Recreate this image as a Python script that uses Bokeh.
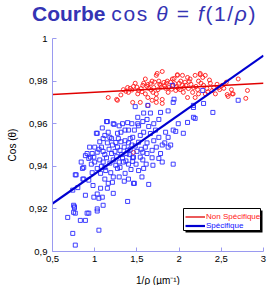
from bokeh.plotting import figure
from bokeh.embed import file_html
from bokeh.resources import INLINE
from bokeh.layouts import column
from bokeh.models import Legend, LegendItem, BoxAnnotation, Range1d, Div

# ---------------- data ----------------
red_x = [1.16, 1.26, 1.27, 1.45, 1.54, 1.63, 1.73, 1.80, 1.42, 1.46, 1.48, 1.52, 1.51, 1.57, 1.60, 1.63,
         1.64, 1.60, 1.63, 1.68, 1.69, 1.73, 1.73, 1.73, 1.78, 1.80, 1.82, 1.84, 1.86, 1.87, 1.92, 1.93,
         1.96, 1.98, 2.02, 1.99, 2.04, 1.68, 1.80, 1.40, 1.34, 1.39, 1.74, 1.98, 2.25, 2.28, 2.04, 2.10,
         2.13, 2.19, 2.25, 2.31, 2.23, 2.08, 2.17, 2.29, 2.37, 2.41, 2.05, 2.16, 2.23, 2.34, 2.43, 2.51,
         2.57, 2.64, 2.70, 2.81, 2.79, 2.10, 2.19, 2.31, 2.53, 2.47, 2.58, 2.63, 1.46,
         1.50, 1.55, 1.58, 1.62, 1.66, 1.70, 1.71, 1.75, 1.77, 1.79, 1.83, 1.85, 1.88, 1.90, 1.91, 1.95,
         1.97, 2.00, 2.01, 2.06, 2.07, 2.11, 2.14, 2.20, 2.22, 2.26, 2.33, 2.36, 2.39, 2.45, 1.37, 1.44,
         1.56, 1.67, 1.76, 1.94, 2.12, 2.48, 1.31, 2.62, 2.56]
red_y = [0.9723, 0.9714, 0.9710, 0.9700, 0.9700, 0.9686, 0.9700, 0.9695, 0.9766, 0.9775, 0.9790, 0.9756,
         0.9740, 0.9780, 0.9810, 0.9784, 0.9766, 0.9740, 0.9723, 0.9800, 0.9747, 0.9740, 0.9719, 0.9827,
         0.9780, 0.9845, 0.9794, 0.9766, 0.9800, 0.9747, 0.9810, 0.9780, 0.9756, 0.9827, 0.9800, 0.9766,
         0.9780, 0.9710, 0.9714, 0.9747, 0.9760, 0.9770, 0.9836, 0.9830, 0.9830, 0.9817, 0.9827, 0.9817,
         0.9810, 0.9827, 0.9836, 0.9827, 0.9800, 0.9780, 0.9770, 0.9780, 0.9790, 0.9770, 0.9747, 0.9747,
         0.9740, 0.9750, 0.9740, 0.9780, 0.9737, 0.9740, 0.9810, 0.9756, 0.9719, 0.9723, 0.9723, 0.9740,
         0.9766, 0.9770, 0.9728, 0.9740, 0.9465,
         0.9772, 0.9765, 0.9790, 0.9775, 0.9788, 0.9770, 0.9795, 0.9760, 0.9785, 0.9772, 0.9778, 0.9790,
         0.9770, 0.9795, 0.9762, 0.9788, 0.9773, 0.9790, 0.9760, 0.9770, 0.9795, 0.9765, 0.9785, 0.9775,
         0.9760, 0.9790, 0.9765, 0.9805, 0.9755, 0.9785, 0.9752, 0.9758, 0.9750, 0.9758, 0.9800, 0.9812,
         0.9798, 0.9760, 0.9735, 0.9760, 0.9795]

blue_x = [0.68, 0.74, 0.77, 0.75, 0.76, 0.75, 0.83, 0.93, 1.05, 1.03, 1.10, 1.39, 1.47, 1.64, 1.76, 1.93,
          1.90, 1.96, 2.10, 0.77, 0.87, 0.86, 0.74, 0.80, 1.92, 1.93, 1.94, 1.63, 1.48, 2.17, 2.29, 2.40,
          2.70, 1.78, 1.87, 1.58, 1.15, 1.22, 1.33, 1.39, 1.51, 1.03, 2.19, 2.28, 2.17, 1.99, 1.76, 1.66,
          2.17, 1.40, 1.52, 1.64, 1.84, 1.93, 1.45, 1.54, 1.66, 1.76, 1.87, 1.40, 1.52, 1.62, 1.80, 1.39,
          1.57, 1.68, 1.78, 1.87, 2.05, 1.45, 1.54, 1.14, 1.23, 1.02, 1.12, 1.18, 1.27, 1.36, 1.28, 1.36,
          1.00, 1.08, 1.15, 1.21, 1.25, 0.91, 0.97, 1.03, 0.93, 0.99, 0.95, 0.855, 0.78, 0.87, 0.93, 0.97,
          1.03, 1.07, 1.13, 1.19, 1.22, 1.21, 0.89, 0.99, 1.05, 1.16, 1.07, 1.15, 1.03, 1.09, 1.22, 0.76,
          0.77, 0.91, 0.89, 1.03, 1.36, 1.27, 1.34, 1.46, 1.45, 1.40, 1.57, 1.61, 1.58, 1.46,
          1.05, 1.10, 1.12, 1.17, 1.20, 1.24, 1.27, 1.30, 1.32, 1.35, 1.38, 1.42, 1.44, 1.48, 1.50, 1.06,
          1.10, 1.14, 1.18, 1.22, 1.26, 1.29, 1.33, 1.37, 1.41, 1.00, 0.96, 1.08, 1.12, 1.25, 1.30, 1.43,
          1.49, 1.55, 1.60, 1.20, 1.31, 1.42, 1.10, 1.06, 1.16, 1.31, 1.47, 1.58, 1.70, 1.73, 1.62, 1.68,
          1.72, 1.83, 0.94, 0.89, 0.84, 1.29, 1.35, 1.12, 0.98, 1.40, 1.52, 1.56, 1.69, 1.80, 1.51, 1.44,
          1.57, 1.62, 1.70, 1.29, 1.09]
blue_y = [0.9160, 0.9085, 0.9030, 0.9217, 0.9205, 0.9184, 0.9146, 0.9180, 0.9100, 0.9190, 0.9217, 0.9235,
          0.9320, 0.9315, 0.9437, 0.9410, 0.9500, 0.9564, 0.9606, 0.9360, 0.9395, 0.9340, 0.9288, 0.9300,
          0.9780, 0.9700, 0.9715, 0.9686, 0.9680, 0.9686, 0.9695, 0.9653, 0.9710, 0.9653, 0.9660, 0.9650,
          0.9610, 0.9600, 0.9600, 0.9605, 0.9630, 0.9555, 0.9625, 0.9756, 0.9676, 0.9600, 0.9620, 0.9650,
          0.9630, 0.9570, 0.9590, 0.9587, 0.9560, 0.9570, 0.9536, 0.9545, 0.9554, 0.9536, 0.9536, 0.9510,
          0.9513, 0.9510, 0.9500, 0.9475, 0.9466, 0.9475, 0.9460, 0.9490, 0.9555, 0.9440, 0.9443, 0.9610,
          0.9597, 0.9555, 0.9545, 0.9536, 0.9555, 0.9570, 0.9530, 0.9520, 0.9490, 0.9490, 0.9510, 0.9500,
          0.9512, 0.9460, 0.9460, 0.9466, 0.9437, 0.9443, 0.9443, 0.9390, 0.9360, 0.9340, 0.9335, 0.9370,
          0.9390, 0.9367, 0.9380, 0.9370, 0.9350, 0.9325, 0.9264, 0.9255, 0.9250, 0.9320, 0.9297, 0.9297,
          0.9270, 0.9255, 0.9273, 0.9210, 0.9180, 0.9180, 0.9146, 0.9200, 0.9367, 0.9390, 0.9420, 0.9443,
          0.9423, 0.9410, 0.9430, 0.9410, 0.9390, 0.9320,
          0.9480, 0.9470, 0.9455, 0.9480, 0.9460, 0.9470, 0.9490, 0.9475, 0.9455, 0.9490, 0.9460, 0.9480,
          0.9500, 0.9495, 0.9470, 0.9430, 0.9420, 0.9440, 0.9415, 0.9430, 0.9445, 0.9420, 0.9440, 0.9425,
          0.9455, 0.9420, 0.9410, 0.9400, 0.9395, 0.9405, 0.9395, 0.9385, 0.9410, 0.9480, 0.9490, 0.9530,
          0.9515, 0.9530, 0.9530, 0.9515, 0.9560, 0.9560, 0.9570, 0.9560, 0.9520, 0.9490, 0.9460, 0.9440,
          0.9570, 0.9510, 0.9490, 0.9450, 0.9420, 0.9350, 0.9330, 0.9340, 0.9310, 0.9340, 0.9380, 0.9350,
          0.9405, 0.9420, 0.9600, 0.9600, 0.9610, 0.9620, 0.9600, 0.9590, 0.9580]

# fitted lines (end values)
fit_x = [0.5, 3.0]
red_fit_y = [0.9737, 0.9790]
blue_fit_y = [0.9225, 0.9920]

x_ticks = [0.5, 1.0, 1.5, 2.0, 2.5, 3.0]
x_tick_labels = ["0,5", "1", "1,5", "2", "2,5", "3"]
y_ticks = [0.9, 0.92, 0.94, 0.96, 0.98, 1.0]
y_tick_labels = ["0,9", "0,92", "0,94", "0,96", "0,98", "1"]

RED = "#ff1a1a"
BLUE = "#2a2aff"
AXIS = "#9a9af0"
TITLE = "#3434b4"
FONT = "Liberation Sans"

title = Div(
    text=('<b>Courbe</b>&nbsp;<span style="letter-spacing:1.6px">cos&nbsp;<i>θ</i>&nbsp;=&nbsp;'
          '<i>f</i>(1/<i>ρ</i>)</span>'),
    width=268, height=28, margin=(0, 0, 0, 0),
    styles={"font-family": FONT, "font-size": "21px", "color": TITLE,
            "line-height": "28px", "padding-left": "32px", "white-space": "nowrap"})

p = figure(frame_width=211, frame_height=213, output_backend="svg", toolbar_location=None,
           min_border_left=52, min_border_right=5, min_border_top=10, min_border_bottom=30,
           x_range=Range1d(0.5, 3.0), y_range=Range1d(0.9, 1.0), margin=(0, 0, 0, 0))
p.outline_line_color = None
p.xgrid.visible = False
p.ygrid.visible = False
p.background_fill_color = "white"
p.border_fill_color = "white"

for ax in (p.xaxis[0], p.yaxis[0]):
    ax.axis_line_color = AXIS
    ax.major_tick_line_color = AXIS
    ax.major_tick_in = 4
    ax.major_tick_out = 0
    ax.minor_tick_line_color = None
    ax.major_label_text_font = FONT
    ax.major_label_text_font_size = "9.5px"
    ax.major_label_text_color = "black"
    ax.axis_label_text_font = FONT
    ax.axis_label_text_font_size = "10px"
    ax.axis_label_text_font_style = "normal"
    ax.axis_label_text_color = "black"

p.xaxis.ticker = x_ticks
p.yaxis.ticker = y_ticks
p.xaxis.major_label_overrides = dict(zip(x_ticks, x_tick_labels))
p.yaxis.major_label_overrides = dict(zip(y_ticks, y_tick_labels))
p.xaxis.major_label_standoff = 4
p.yaxis.major_label_standoff = 5
p.xaxis.axis_label = "1/ρ (µm⁻¹)"
p.yaxis.axis_label = "Cos (θ)"
p.xaxis.axis_label_standoff = 10
p.yaxis.axis_label_standoff = 8

rs = p.scatter(red_x, red_y, marker="circle", size=4, fill_color=None, line_color=RED, line_width=0.9)
bs = p.scatter(blue_x, blue_y, marker="square", size=4, fill_color=None, line_color=BLUE, line_width=0.9)
rl = p.line(fit_x, red_fit_y, line_color="#e00000", line_width=1.3)
bl = p.line(fit_x, blue_fit_y, line_color="#0000d0", line_width=2.2)

# legend markers (small filled)
rm = p.scatter([], [], marker="circle", size=3, fill_color="#e00000", line_color="#e00000")
bm = p.scatter([], [], marker="square", size=3, fill_color="#0000d0", line_color="#0000d0")

# legend frame with shadow
p.add_layout(BoxAnnotation(left=133, right=210, bottom=19, top=41,
                           left_units="screen", right_units="screen", bottom_units="screen", top_units="screen",
                           fill_color="black", fill_alpha=1, line_color=None))
p.add_layout(BoxAnnotation(left=131, right=208, bottom=21, top=43,
                           left_units="screen", right_units="screen", bottom_units="screen", top_units="screen",
                           fill_color="white", fill_alpha=1, line_color="black", line_width=1, line_alpha=1))

common = dict(padding=0, margin=0, spacing=0, glyph_width=20, glyph_height=9, label_height=9,
              label_standoff=1, label_text_font=FONT, label_text_font_size="8px",
              background_fill_alpha=0, border_line_color=None, label_text_baseline="middle")
leg1 = Legend(items=[LegendItem(label="Non Spécifique", renderers=[rl, rm])], location=(133, 30),
              label_text_color="#ff2020", **common)
leg2 = Legend(items=[LegendItem(label="Spécifique", renderers=[bl, bm])], location=(133, 21.5),
              label_text_color="#1010ff", **common)
p.add_layout(leg1)
p.add_layout(leg2)

layout = column(title, p, spacing=0, margin=(0, 0, 0, 0))
open("out.html", "w").write(file_html(layout, INLINE))
